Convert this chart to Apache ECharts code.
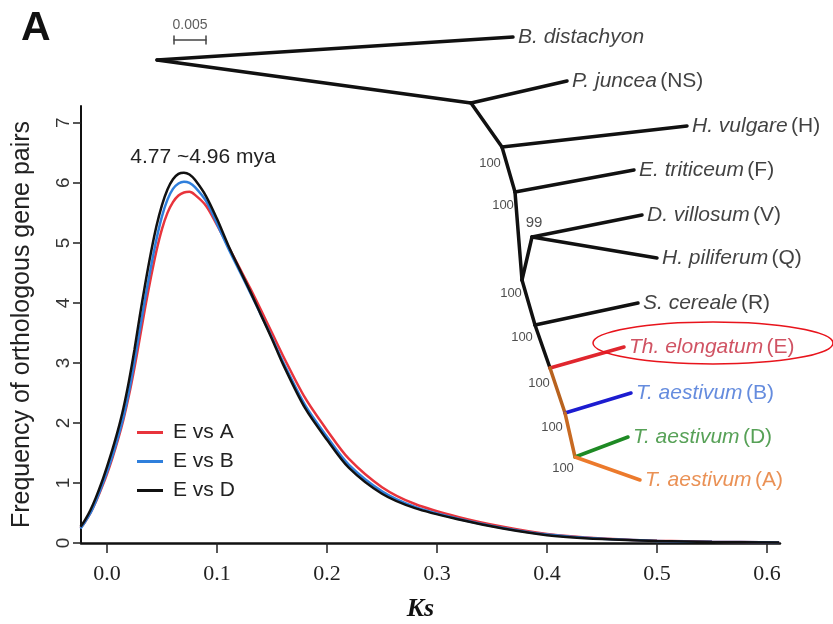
<!DOCTYPE html>
<html>
<head>
<meta charset="utf-8">
<script src="https://cdn.jsdelivr.net/npm/echarts@6/dist/echarts.min.js"></script>
<style>
  html, body { margin: 0; padding: 0; background: #fff; }
  #chart { width: 833px; height: 624px; }
</style>
</head>
<body>
<div id="chart"></div>
<script>
// Ks values and density of orthologous gene pairs
const ks = [-0.024, -0.02, -0.015, -0.01, -0.005, 0, 0.005, 0.01, 0.015, 0.02, 0.025,
  0.03, 0.035, 0.04, 0.045, 0.05, 0.055, 0.06, 0.065, 0.07, 0.075,
  0.08, 0.09, 0.1, 0.11, 0.12, 0.13, 0.14, 0.15, 0.16, 0.18,
  0.2, 0.22, 0.25, 0.28, 0.32, 0.36, 0.4, 0.45, 0.5, 0.55, 0.611];

const eVsA = [0.25, 0.35, 0.5, 0.69, 0.91, 1.15, 1.42, 1.72, 2.06, 2.46, 2.92,
  3.43, 3.95, 4.43, 4.87, 5.23, 5.5, 5.68, 5.79, 5.84, 5.85,
  5.8, 5.62, 5.3, 4.95, 4.6, 4.25, 3.88, 3.5, 3.12, 2.42,
  1.88, 1.4, 0.93, 0.65, 0.43, 0.27, 0.15, 0.075, 0.038, 0.02, 0.01];

const eVsB = [0.24, 0.35, 0.5, 0.7, 0.93, 1.18, 1.45, 1.76, 2.1, 2.52, 3.02,
  3.57, 4.1, 4.6, 5.06, 5.44, 5.72, 5.9, 5.99, 6.02, 6.0,
  5.93, 5.7, 5.32, 4.92, 4.55, 4.18, 3.8, 3.42, 3.02, 2.3,
  1.77, 1.3, 0.86, 0.6, 0.4, 0.25, 0.14, 0.07, 0.035, 0.02, 0.01];

const eVsD = [0.27, 0.38, 0.55, 0.76, 1.0, 1.27, 1.56, 1.88, 2.25, 2.7, 3.22,
  3.8, 4.34, 4.84, 5.28, 5.63, 5.89, 6.06, 6.15, 6.17, 6.14,
  6.05, 5.78, 5.4, 4.97, 4.58, 4.2, 3.8, 3.4, 2.98, 2.25,
  1.72, 1.25, 0.82, 0.58, 0.39, 0.24, 0.13, 0.065, 0.032, 0.018, 0.008];

const xTicks = [0, 0.1, 0.2, 0.3, 0.4, 0.5, 0.6];
const yTicks = [0, 1, 2, 3, 4, 5, 6, 7];

// phylogenetic tree (node layout in page units)
const treeNodes = {
  root: [157, 60], bdi: [513, 37],
  n1: [471, 103], pju: [567, 81],
  n2: [502, 147], hvu: [687, 126],
  n3: [515, 192], etr: [634, 170],
  n4: [522, 280], n99: [532, 237], dvi: [642, 215], hpi: [657, 258],
  ns: [535, 325], sce: [638, 303],
  ne: [550, 368], the: [624, 347],
  nb: [565, 413], tab: [631, 393],
  nda: [575, 457], tad: [628, 437], taa: [640, 480]
};
const treeEdges = [
  ['root', 'bdi', '#111'], ['root', 'n1', '#111'], ['n1', 'pju', '#111'],
  ['n1', 'n2', '#111'], ['n2', 'hvu', '#111'], ['n2', 'n3', '#111'],
  ['n3', 'etr', '#111'], ['n3', 'n4', '#111'], ['n4', 'n99', '#111'],
  ['n99', 'dvi', '#111'], ['n99', 'hpi', '#111'], ['n4', 'ns', '#111'],
  ['ns', 'sce', '#111'], ['ns', 'ne', '#111'], ['ne', 'the', '#e0262e'],
  ['ne', 'nb', '#b8621e'], ['nb', 'tab', '#1c1cd0'], ['nb', 'nda', '#c86a22'],
  ['nda', 'tad', '#1e8a24'], ['nda', 'taa', '#ec7a2c']
];
const taxa = [
  ['bdi', 'B. distachyon', '', '#111'],
  ['pju', 'P. juncea', '(NS)', '#111'],
  ['hvu', 'H. vulgare', '(H)', '#111'],
  ['etr', 'E. triticeum', '(F)', '#111'],
  ['dvi', 'D. villosum', '(V)', '#111'],
  ['hpi', 'H. piliferum', '(Q)', '#111'],
  ['sce', 'S. cereale', '(R)', '#111'],
  ['the', 'Th. elongatum', '(E)', '#c4283c'],
  ['tab', 'T. aestivum', '(B)', '#3f6fd6'],
  ['tad', 'T. aestivum', '(D)', '#2d8a2d'],
  ['taa', 'T. aestivum', '(A)', '#e5762a']
];
const support = [
  ['100', 490, 163], ['100', 503, 205], ['99', 534, 223], ['100', 511, 293],
  ['100', 522, 337], ['100', 539, 383], ['100', 552, 427], ['100', 563, 468]
];
const scaleBar = [[174, 40], [206, 40]];

const chart = echarts.init(document.getElementById('chart'));

const sans = 'Liberation Sans, Arial, sans-serif';
const serif = 'Liberation Serif, Times New Roman, serif';

const pairs = (vals) => ks.map((k, i) => [k, vals[i]]);

const edgeData = treeEdges.map(([a, b, c]) => ({
  coords: [treeNodes[a], treeNodes[b]],
  lineStyle: { color: c }
}));
// scale bar with end caps
edgeData.push({ coords: scaleBar, lineStyle: { color: '#444', width: 1.5 } });
edgeData.push({ coords: [[174, 36], [174, 44]], lineStyle: { color: '#444', width: 1.5 } });
edgeData.push({ coords: [[206, 36], [206, 44]], lineStyle: { color: '#444', width: 1.5 } });

chart.setOption({
  backgroundColor: '#fff',
  animation: false,
  grid: [
    { left: 81, right: 53, top: 106, bottom: 81, outerBoundsMode: 'none' },
    { left: 0, right: 0, top: 0, bottom: 0, outerBoundsMode: 'none' }
  ],
  xAxis: [
    {
      type: 'value',
      min: -0.0236,
      max: 0.6118,
      name: 'Ks',
      nameLocation: 'middle',
      nameGap: 53,
      nameTextStyle: {
        fontFamily: serif, fontStyle: 'italic', fontWeight: 'bold',
        fontSize: 26, color: '#111', padding: [0, 20, 0, 0]
      },
      axisLine: { onZero: false, lineStyle: { color: '#111', width: 2.5 } },
      axisTick: { customValues: xTicks, length: 10, lineStyle: { color: '#222', width: 1.5 } },
      axisLabel: {
        customValues: xTicks, margin: 20,
        fontFamily: serif, fontSize: 22, color: '#222',
        formatter: (v) => v.toFixed(1)
      },
      splitLine: { show: false }
    },
    { type: 'value', gridIndex: 1, min: 0, max: 833, show: false }
  ],
  yAxis: [
    {
      type: 'value',
      min: 0,
      max: 7.28,
      name: 'Frequency of orthologous gene pairs',
      nameLocation: 'middle',
      nameGap: 46,
      nameRotate: 90,
      nameTextStyle: { fontFamily: sans, fontSize: 25, color: '#222' },
      axisLine: { show: true, onZero: false, lineStyle: { color: '#111', width: 2 } },
      axisTick: { show: true, customValues: yTicks, length: 8, lineStyle: { color: '#222', width: 1.5 } },
      axisLabel: {
        customValues: yTicks, rotate: 90, margin: 8,
        fontFamily: sans, fontSize: 19, color: '#333'
      },
      splitLine: { show: false }
    },
    { type: 'value', gridIndex: 1, min: 0, max: 624, inverse: true, show: false }
  ],
  legend: {
    orient: 'vertical',
    left: 137,
    top: 422,
    padding: 0,
    icon: 'rect',
    itemWidth: 26,
    itemHeight: 3,
    itemGap: 8,
    data: ['E vs A', 'E vs B', 'E vs D'],
    textStyle: { fontFamily: sans, fontSize: 21, color: '#222', padding: [0, 0, 0, 5] }
  },
  graphic: [
    {
      type: 'text', left: 21, top: 8,
      style: { text: 'A', font: 'bold 41px ' + sans, fill: '#111' }
    },
    {
      type: 'text', x: 203, y: 157,
      style: {
        text: '4.77 ~4.96 mya', font: '21px ' + sans, fill: '#222',
        textAlign: 'center', textVerticalAlign: 'middle'
      }
    },
    {
      type: 'ellipse',
      shape: { cx: 713, cy: 343, rx: 120, ry: 21 },
      style: { fill: 'none', stroke: '#e8141c', lineWidth: 1.5 },
      z: 10
    }
  ],
  series: [
    {
      name: 'E vs A', type: 'line', data: pairs(eVsA),
      smooth: 0.3, showSymbol: false, color: '#e8343c',
      lineStyle: { width: 2.5 }
    },
    {
      name: 'E vs B', type: 'line', data: pairs(eVsB),
      smooth: 0.3, showSymbol: false, color: '#2f7fdc',
      lineStyle: { width: 2.5 }
    },
    {
      name: 'E vs D', type: 'line', data: pairs(eVsD),
      smooth: 0.3, showSymbol: false, color: '#111',
      lineStyle: { width: 2.5 }
    },
    {
      type: 'lines', coordinateSystem: 'cartesian2d',
      xAxisIndex: 1, yAxisIndex: 1,
      lineStyle: { width: 3.5, opacity: 1, cap: 'round' },
      data: edgeData,
      silent: true, z: 5
    },
    {
      type: 'scatter', xAxisIndex: 1, yAxisIndex: 1,
      symbolSize: 0, silent: true, z: 6,
      data: taxa.map(([node, sp, tag, c]) => ({
        value: [treeNodes[node][0], treeNodes[node][1]],
        label: {
          show: true, position: 'right', distance: 5, color: c,
          formatter: tag ? '{i|' + sp + '} {n|' + tag + '}' : '{i|' + sp + '}',
          rich: {
            i: { fontFamily: sans, fontStyle: 'italic', fontSize: 21 },
            n: { fontFamily: sans, fontSize: 21 }
          }
        }
      }))
    },
    {
      type: 'scatter', xAxisIndex: 1, yAxisIndex: 1,
      symbolSize: 0, silent: true, z: 6,
      data: support.map(([t, x, y]) => ({
        value: [x, y],
        label: {
          show: true, position: 'inside', formatter: t,
          fontFamily: sans, fontSize: t === '99' ? 15 : 13, color: '#222'
        }
      }))
    },
    {
      type: 'scatter', xAxisIndex: 1, yAxisIndex: 1,
      symbolSize: 0, silent: true, z: 6,
      data: [{
        value: [190, 25],
        label: { show: true, position: 'inside', formatter: '0.005', fontFamily: sans, fontSize: 14, color: '#333' }
      }]
    }
  ]
});
</script>
</body>
</html>
